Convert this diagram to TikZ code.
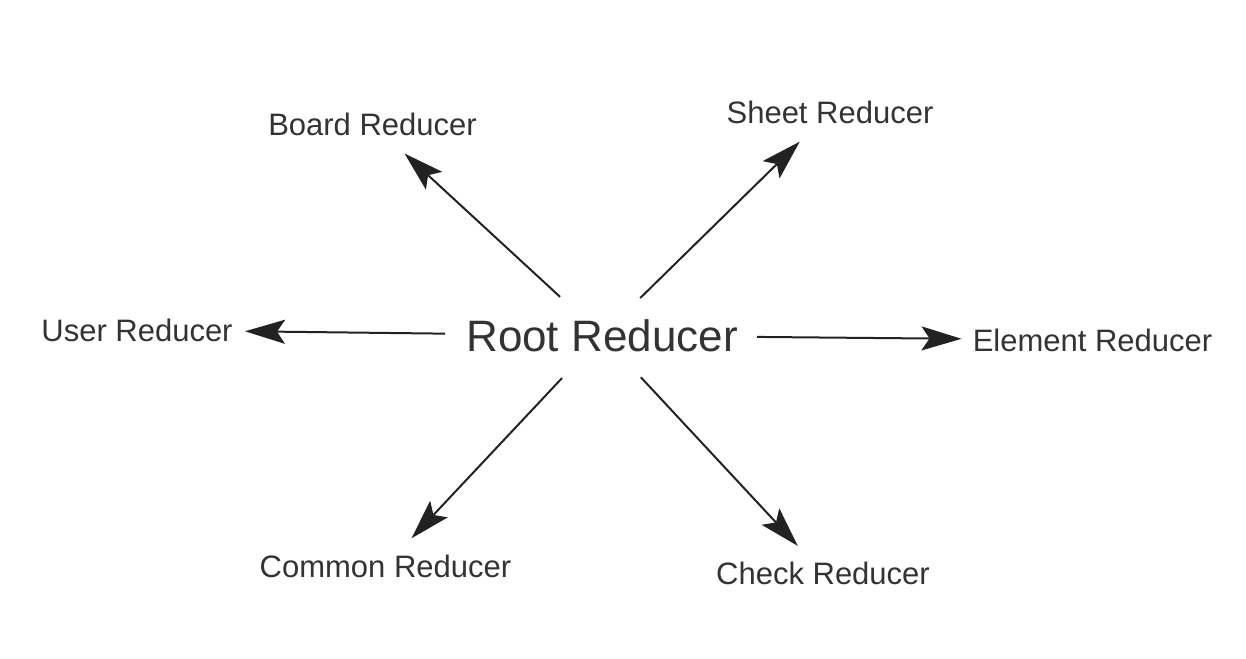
\documentclass[tikz,border=0pt]{standalone}
\usepackage{fontspec}
\setmainfont{Liberation Sans}
\usepackage{tikz}
\definecolor{tc}{RGB}{51, 51, 51}
\definecolor{lc}{RGB}{34, 34, 34}
\usetikzlibrary{arrows.meta}

\begin{document}
\begin{tikzpicture}[x=1pt, y=1pt,
  lbl/.style={inner sep=0pt, text height=22.3pt, text depth=0pt, text=tc, font=\fontsize{31}{36}\selectfont},
  arr/.style={line width=2pt, color=lc, -{Stealth[length=40pt, width=24pt, inset=8pt]}}]
\useasboundingbox (0, 0) rectangle (1246, -658);
\node (root) [lbl, text height=31.5pt, font=\fontsize{44}{52}\selectfont] at (602, -335.5) {Root Reducer};
\node (board) [lbl] at (372.5, -124) {Board Reducer};
\node (sheet) [lbl] at (830, -112) {Sheet Reducer};
\node (user) [lbl] at (137, -330) {User Reducer};
\node (element) [lbl] at (1092.5, -340) {Element Reducer};
\node (common) [lbl] at (385.5, -566) {Common Reducer};
\node (check) [lbl] at (823, -573) {Check Reducer};
\draw [arr, shorten <=57pt, shorten >=43.6pt] (root.center) to (board.center);
\draw [arr, shorten <=53.4pt, shorten >=42.4pt] (root.center) to (sheet.center);
\draw [arr, shorten <=157pt, shorten >=108pt] (root.center) to (user.center);
\draw [arr, shorten <=155pt, shorten >=131pt] (root.center) to (element.center);
\draw [arr, shorten <=58.4pt, shorten >=38pt] (root.center) to (common.center);
\draw [arr, shorten <=57pt, shorten >=37pt] (root.center) to (check.center);
\end{tikzpicture}
\end{document}
